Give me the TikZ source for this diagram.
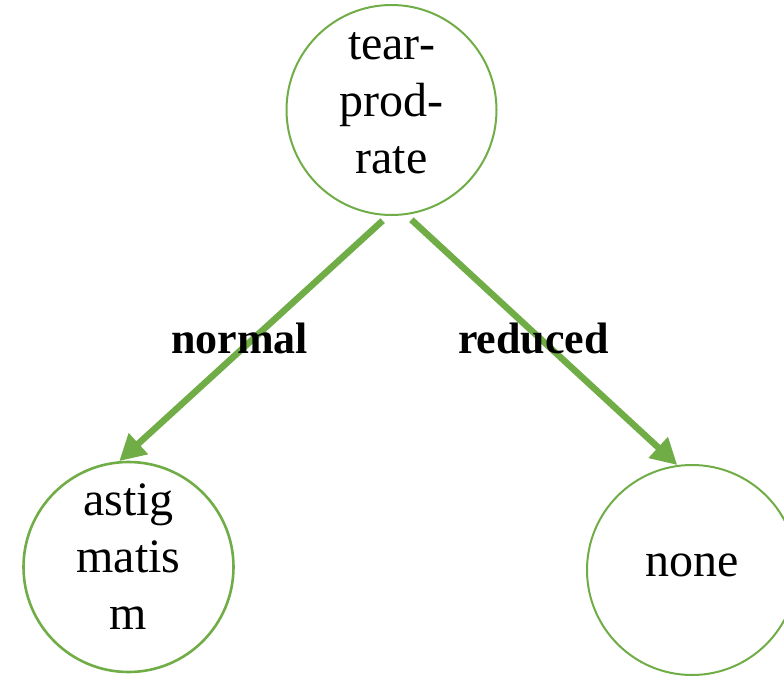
\documentclass[tikz,border=0pt]{standalone}
\usepackage{fontspec}
\setmainfont{Liberation Serif}
\usetikzlibrary{arrows.meta}
\definecolor{leafgreen}{HTML}{70AD47}
\begin{document}
\begin{tikzpicture}[x=1pt,y=-1pt,
  treenode/.style={circle,draw=leafgreen,line width=2pt,minimum size=210pt,inner sep=0pt,fill=white},
  nodetext/.style={align=center,font=\fontsize{48}{57}\selectfont,inner sep=0pt},
  edgelabel/.style={font=\fontsize{44}{50}\selectfont\bfseries,anchor=base,inner sep=0pt},
  branch/.style={draw=leafgreen,line width=6.5pt,-{Triangle[length=26pt,width=27pt]}}]
\useasboundingbox (0,0) rectangle (784,677);
\node[treenode] (top) at (391.5,110) {};
\node[treenode,line width=2.6pt] (left) at (128.5,567) {};
\node[treenode] (right) at (692,570) {};
\node[nodetext,yshift=7pt] (toptext) at (top) {tear-\\prod-\\rate};
\node[nodetext,yshift=10pt] (lefttext) at (left) {astig\\matis\\m};
\node[nodetext,yshift=5pt] (righttext) at (right) {none};
\draw[branch,shorten <=7pt] (top.268) -- (left.95);
\draw[branch,shorten <=7pt] (top.278) -- (right.98);
\node[edgelabel] (lnormal) at (239.5,353) {normal};
\node[edgelabel] (lreduced) at (533.5,353) {reduced};
\end{tikzpicture}
\end{document}
